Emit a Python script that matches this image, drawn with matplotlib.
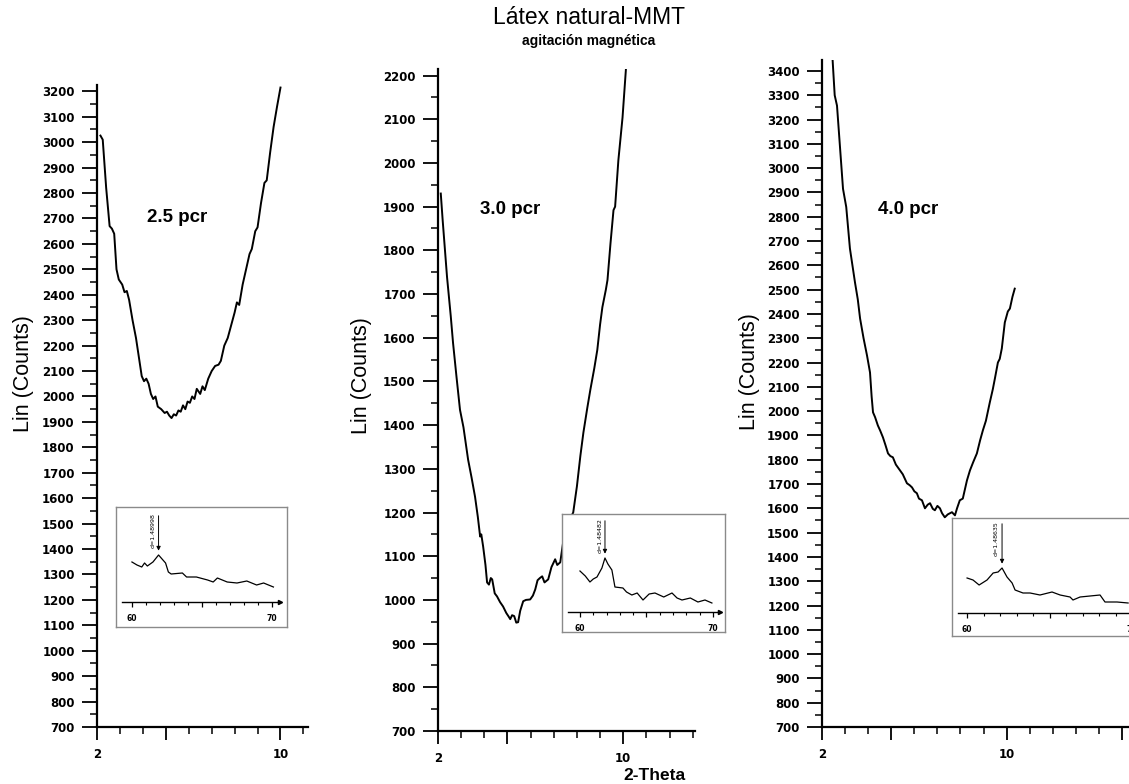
import matplotlib
matplotlib.use('Agg')
import matplotlib.pyplot as plt
from matplotlib.ticker import MultipleLocator

W, H = 1129, 784

# Main XRD scans (2-Theta, Lin counts)
theta_25 = [2.15, 2.25, 2.40, 2.55, 2.65, 2.75, 2.85, 2.95, 3.10, 3.20, 3.30, 3.40, 3.55, 3.70,
            3.85, 3.95, 4.05, 4.15, 4.25, 4.35, 4.45, 4.55, 4.65, 4.80, 4.95, 5.05, 5.15, 5.25,
            5.35, 5.45, 5.55, 5.65, 5.75, 5.85, 5.95, 6.05, 6.15, 6.25, 6.35, 6.50, 6.60, 6.70,
            6.85, 7.00, 7.15, 7.30, 7.40, 7.55, 7.70, 7.85, 8.00, 8.10, 8.20, 8.35, 8.50, 8.65,
            8.75, 8.90, 9.00, 9.15, 9.30, 9.40, 9.55, 9.70, 9.85, 10.00]
counts_25 = [3026, 3010, 2820, 2670, 2660, 2640, 2500, 2460, 2440, 2410, 2415, 2380, 2300, 2230,
             2140, 2080, 2060, 2070, 2050, 2010, 1990, 2000, 1960, 1950, 1935, 1940, 1925, 1915,
             1930, 1925, 1945, 1940, 1965, 1950, 1980, 1975, 2000, 1990, 2030, 2010, 2040, 2025,
             2070, 2100, 2120, 2125, 2140, 2200, 2230, 2280, 2330, 2370, 2360, 2440, 2500, 2560,
             2580, 2650, 2665, 2760, 2840, 2850, 2960, 3060, 3140, 3215]

theta_30 = [2.12, 2.20, 2.39, 2.55, 2.65, 2.80, 2.95, 3.10, 3.30, 3.45, 3.60, 3.72, 3.82, 3.87,
            3.95, 4.05, 4.12, 4.20, 4.28, 4.34, 4.45, 4.55, 4.68, 4.81, 4.95, 5.05, 5.12, 5.20,
            5.29, 5.38, 5.46, 5.55, 5.68, 5.80, 5.98, 6.10, 6.20, 6.30, 6.40, 6.50, 6.60, 6.76,
            6.90, 7.06, 7.15, 7.28, 7.40, 7.50, 7.65, 7.84, 8.00, 8.15, 8.28, 8.45, 8.58, 8.75,
            8.88, 9.00, 9.10, 9.25, 9.32, 9.45, 9.58, 9.65, 9.79, 9.97, 10.15]
counts_30 = [1930, 1870, 1739, 1650, 1588, 1510, 1435, 1395, 1321, 1280, 1236, 1190, 1145, 1150,
             1122, 1080, 1040, 1035, 1050, 1047, 1015, 1008, 995, 985, 970, 962, 956, 965,
             963, 948, 949, 975, 997, 1000, 1001, 1010, 1024, 1045, 1050, 1054, 1040, 1047,
             1075, 1093, 1080, 1086, 1130, 1154, 1180, 1200, 1260, 1330, 1383, 1440, 1481, 1530,
             1572, 1630, 1670, 1710, 1732, 1816, 1892, 1900, 2006, 2104, 2240]

theta_40 = [2.45, 2.55, 2.65, 2.91, 3.05, 3.21, 3.43, 3.55, 3.65, 3.80, 3.95, 4.08, 4.15, 4.21,
            4.30, 4.42, 4.52, 4.64, 4.75, 4.86, 4.96, 5.07, 5.20, 5.38, 5.50, 5.68, 5.80, 5.90,
            6.00, 6.11, 6.20, 6.33, 6.46, 6.58, 6.68, 6.80, 6.89, 7.00, 7.11, 7.20, 7.32, 7.45,
            7.63, 7.76, 7.85, 7.97, 8.10, 8.28, 8.41, 8.55, 8.71, 8.85, 8.97, 9.10, 9.27, 9.40,
            9.49, 9.62, 9.70, 9.79, 9.92, 10.05, 10.14, 10.25, 10.35]
counts_40 = [3460, 3300, 3257, 2915, 2840, 2669, 2529, 2460, 2381, 2300, 2229, 2159, 2060, 1995,
             1975, 1941, 1920, 1892, 1860, 1826, 1815, 1810, 1780, 1756, 1740, 1703, 1695, 1686,
             1670, 1662, 1640, 1633, 1600, 1615, 1621, 1598, 1592, 1610, 1600, 1580, 1563, 1575,
             1584, 1571, 1600, 1633, 1640, 1715, 1756, 1790, 1826, 1880, 1921, 1960, 2036, 2090,
             2134, 2200, 2215, 2258, 2365, 2410, 2422, 2470, 2504]

# Inset scans (2-Theta 60-70, relative intensity)
ins_theta_25 = [60.0, 60.36, 60.7, 60.9, 61.1, 61.5, 61.9, 62.4, 62.6, 62.8, 63.6, 63.9, 64.6,
                65.4, 65.8, 66.1, 66.8, 67.5, 68.2, 68.9, 69.4, 70.1]
ins_int_25 = [40, 37, 35, 39, 36, 40, 47, 39, 30, 28, 29, 25, 25, 22, 20, 24, 20, 19, 21, 17, 19, 15]

ins_theta_30 = [60.0, 60.4, 60.75, 61.0, 61.28, 61.65, 61.88, 62.1, 62.4, 62.63, 63.23, 63.5, 63.9,
                64.3, 64.74, 65.2, 65.64, 66.3, 66.92, 67.3, 67.67, 68.3, 68.87, 69.4, 69.92]
ins_int_30 = [41, 36, 30, 33, 35, 44, 54, 48, 42, 25, 24, 20, 17, 19, 12, 18, 19, 15, 19, 14,
              12, 14, 10, 12, 9]

ins_theta_40 = [60.0, 60.36, 60.73, 61.21, 61.58, 61.88, 62.12, 62.42, 62.73, 62.91, 63.39, 63.82,
                64.42, 65.15, 65.64, 66.24, 66.42, 66.85, 68.06, 68.36, 69.09, 69.76]
ins_int_40 = [35, 33, 28, 33, 40, 41, 45, 36, 30, 23, 20, 20, 18, 21, 18, 16, 13, 16, 18, 11, 11, 10]

samples = ['2.5 pcr', '3.0 pcr', '4.0 pcr']
d_labels = ['d=1.48998', 'd=1.48482', 'd=1.48635']


def px_rect(left, top, right, bottom):
    return [left / W, 1 - bottom / H, (right - left) / W, (bottom - top) / H]


plt.rcParams['font.family'] = ['Liberation Sans', 'DejaVu Sans']
fig = plt.figure(figsize=(W / 100, H / 100), dpi=100)


def main_panel(rect, theta, counts, xlim, ylim):
    ax = fig.add_axes(px_rect(*rect))
    ax.plot(theta, counts, color='black', lw=1.4)
    for s in ['top', 'right']:
        ax.spines[s].set_visible(False)
    for s in ['left', 'bottom']:
        ax.spines[s].set_linewidth(1.6)
    ax.yaxis.set_major_locator(MultipleLocator(100))
    ax.yaxis.set_minor_locator(MultipleLocator(50))
    ax.set_xticks([2, 5, 10, 15], ['2', '', '10', ''])
    ax.xaxis.set_minor_locator(MultipleLocator(1))
    # limits after the ticks, set_xticks would widen them
    ax.set_xlim(xlim)
    ax.set_ylim(ylim)
    ax.tick_params(which='major', length=11, width=1.3, pad=5, labelsize=8.5)
    ax.tick_params(which='minor', length=5, width=1.1)
    ax.tick_params(axis='x', which='major', length=9, pad=6)
    for lab in ax.get_xticklabels() + ax.get_yticklabels():
        lab.set_fontfamily('DejaVu Sans')
        lab.set_fontweight('bold')
    return ax


def inset(box, inner, theta, inten, xlim, ylim, d_label):
    bx = fig.add_axes(px_rect(*box))
    bx.set_xticks([])
    bx.set_yticks([])
    for s in bx.spines.values():
        s.set_color('#8a8a8a')
        s.set_linewidth(1.0)

    ix = fig.add_axes(px_rect(*inner))
    ix.patch.set_visible(False)
    ix.plot(theta, inten, color='black', lw=0.9)
    for s in ['top', 'right', 'left']:
        ix.spines[s].set_visible(False)
    ix.spines['bottom'].set_linewidth(1.0)
    ix.set_yticks([])
    ix.set_xticks([60, 65, 70], ['60', '', '70'])
    ix.xaxis.set_minor_locator(MultipleLocator(1))
    ix.set_xlim(xlim)
    ix.set_ylim(ylim)
    ix.tick_params(which='major', length=3.5, width=0.9, pad=5, labelsize=5.5)
    ix.tick_params(which='minor', length=2, width=0.8)
    for lab in ix.get_xticklabels():
        lab.set_fontfamily('DejaVu Sans')
        lab.set_fontweight('bold')
    ix.plot(1, 0, marker='>', ms=3, color='black', transform=ix.transAxes, clip_on=False)

    # peak marker with d-spacing
    k = inten.index(max(inten))
    tp, ip = theta[k], inten[k]
    ix.annotate('', xy=(tp, ip + 1.5), xytext=(tp, ylim[1] - 1),
                arrowprops=dict(arrowstyle='-|>', lw=0.7, color='black', mutation_scale=6))
    ix.text(tp - 0.2, ylim[1] - 1, d_label, rotation=90, ha='right', va='top',
            fontsize=4.5, fontfamily='DejaVu Sans')


# Panel 1: 2.5 pcr
main_panel((97, 85, 308, 727), theta_25, counts_25, (2, 11.2), (700, 3225))
inset((116, 507, 287, 627), (122, 512, 280, 602), ins_theta_25, ins_int_25,
      (59.29, 70.57), (0, 90), d_labels[0])

# Panel 2: 3.0 pcr
main_panel((438, 69, 695, 731), theta_30, counts_30, (2, 13.1), (700, 2215))
inset((562, 514, 725, 632), (568, 517, 720, 612), ins_theta_30, ins_int_30,
      (59.1, 70.53), (0, 95), d_labels[1])

# Panel 3: 4.0 pcr
main_panel((822, 60, 1129, 727), theta_40, counts_40, (2, 15.3), (700, 3445))
inset((952, 518, 1140, 636), (958, 520, 1137, 613), ins_theta_40, ins_int_40,
      (59.45, 70.3), (0, 93), d_labels[2])

# Text
fig.text(589 / W, 1 - 18 / H, 'Látex natural-MMT', ha='center', va='center', fontsize=16.5)
fig.text(589 / W, 1 - 41 / H, 'agitación magnética', ha='center', va='center',
         fontsize=10, fontweight='bold')
fig.text(623 / W, 1 - 775 / H, '2-Theta', ha='left', va='center', fontsize=12.5, fontweight='bold')

for (x, y), name in zip([(147, 217), (480, 210), (878, 210)], samples):
    fig.text(x / W, 1 - y / H, name, ha='left', va='center', fontsize=13.5, fontweight='bold')

for x, y in [(23, 374), (362, 376), (749, 372)]:
    fig.text(x / W, 1 - y / H, 'Lin (Counts)', rotation=90, ha='center', va='center', fontsize=15.5)

fig.savefig('out.png', dpi=100)
plt.close()
